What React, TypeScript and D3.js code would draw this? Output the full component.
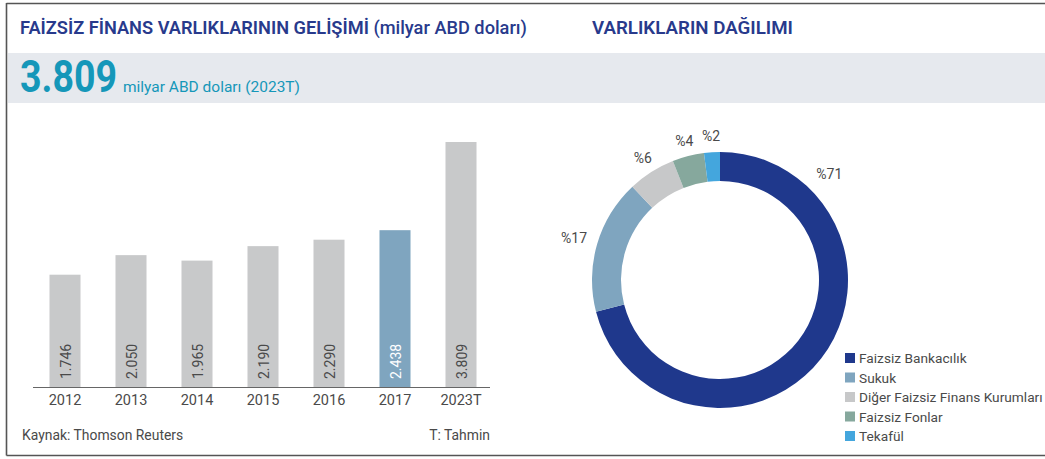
import React from "react";
import * as d3 from "d3";

const years = ["2012", "2013", "2014", "2015", "2016", "2017", "2023T"];
const assetValues = [1.746, 2.05, 1.965, 2.19, 2.29, 2.438, 3.809];
const valueLabels = ["1.746", "2.050", "1.965", "2.190", "2.290", "2.438", "3.809"];
const highlightYear = "2017";

const sliceNames = ["Faizsiz Bankacılık", "Sukuk", "Diğer Faizsiz Finans Kurumları", "Faizsiz Fonlar", "Tekafül"];
const sliceShares = [71, 17, 6, 4, 2];
const sliceColors = ["#1f388c", "#7fa5bf", "#c7c8c9", "#86a89d", "#44a6dd"];

const W = 1045;
const H = 459;
const FONT = "Roboto, 'Open Sans', sans-serif";
const NAVY = "#283a8c";
const TEXT = "#4a4a4a";

export default function App() {
  const x = d3.scaleBand<string>().domain(years).range([32, 494]).paddingInner(0.53).paddingOuter(0.265);
  const y = d3.scaleLinear().domain([0, 3.809]).range([387, 142]);

  const cx = 720, cy = 280, rOuter = 128, rInner = 99;
  const pie = d3.pie<number>().value((d) => d).sort(null).startAngle(0).endAngle(2 * Math.PI);
  const arcs = pie(sliceShares);
  const arcGen = d3.arc<d3.PieArcDatum<number>>().innerRadius(rInner).outerRadius(rOuter);
  const labelR = 146;

  return (
    <svg width={W} height={H} style={{ position: "absolute", left: 0, top: 0, background: "#fff" }} fontFamily={FONT}>
      <rect x={0} y={0} width={W} height={H} fill="#fff" />
      {/* frame */}
      <line x1={6.5} x2={W} y1={3.5} y2={3.5} stroke="#555" strokeWidth={1.6} />
      <line x1={6.5} x2={6.5} y1={3} y2={455.5} stroke="#555" strokeWidth={1.6} />
      <line x1={6.5} x2={W} y1={455.5} y2={455.5} stroke="#555" strokeWidth={1.6} />
      {/* band */}
      <rect x={8} y={53} width={W - 8} height={50} fill="#e6e9ee" />

      <text x={20} y={34} fontSize={18} fill={NAVY} textLength={507} lengthAdjust="spacingAndGlyphs">
        <tspan fontWeight={600}>FAİZSİZ FİNANS VARLIKLARININ GELİŞİMİ</tspan>
        <tspan fontWeight={500}> (milyar ABD doları)</tspan>
      </text>
      <text x={592} y={34} fontSize={18} fill={NAVY} fontWeight={600} textLength={201} lengthAdjust="spacingAndGlyphs">VARLIKLARIN DAĞILIMI</text>

      <text x={20} y={92} fill="#1597b9" fontSize={45} fontWeight={700} textLength={97} lengthAdjust="spacingAndGlyphs">3.809</text>
      <text x={123} y={92} fill="#1597b9" fontSize={15.5} fontWeight={400} textLength={177} lengthAdjust="spacingAndGlyphs">milyar ABD doları (2023T)</text>

      {/* bars */}
      {years.map((yr, i) => {
        const bx = x(yr)!;
        const isHi = yr === highlightYear;
        const cxBar = bx + x.bandwidth() / 2;
        return (
          <g key={yr}>
            <rect x={bx} y={y(assetValues[i])} width={x.bandwidth()} height={y(0) - y(assetValues[i])}
              fill={isHi ? "#7fa5bf" : "#c8c9ca"} />
            <text transform={`translate(${cxBar + 0.5},${y(0) - 8}) rotate(-90)`} textAnchor="start"
              dominantBaseline="central" fontSize={14} fill={isHi ? "#fff" : TEXT}>{valueLabels[i]}</text>
            <text x={cxBar} y={405} textAnchor="middle" fontSize={14.5} fill={TEXT}>{yr}</text>
          </g>
        );
      })}
      <line x1={33} x2={490} y1={y(0) + 0.5} y2={y(0) + 0.5} stroke="#666" strokeWidth={1.2} />

      <text x={22} y={440} fontSize={13.9} fill={TEXT}>Kaynak: Thomson Reuters</text>
      <text x={490} y={440} fontSize={13.9} fill={TEXT} textAnchor="end">T: Tahmin</text>

      {/* donut */}
      <g transform={`translate(${cx},${cy})`}>
        {arcs.map((a, i) => (
          <path key={i} d={arcGen(a)!} fill={sliceColors[i]} />
        ))}
        {arcs.map((a, i) => {
          const span = a.endAngle - a.startAngle;
          const ang = i === 0 ? a.startAngle + span * 0.18 : a.startAngle + span / 2;
          const r = i === 0 || i === 1 ? 152 : labelR - 2;
          return (
            <text key={"l" + i} x={Math.sin(ang) * r} y={-Math.cos(ang) * r} textAnchor="middle"
              dominantBaseline="central" fontSize={14} fill={TEXT}>%{sliceShares[i]}</text>
          );
        })}
      </g>

      {/* legend */}
      {sliceNames.map((n, i) => (
        <g key={n} transform={`translate(845,${358 + i * 19.5})`}>
          <rect x={0} y={-5} width={10} height={10} fill={sliceColors[i]} />
          <text x={14} y={0} dominantBaseline="central" fontSize={13.7} fill={TEXT}>{n}</text>
        </g>
      ))}
    </svg>
  );
}
